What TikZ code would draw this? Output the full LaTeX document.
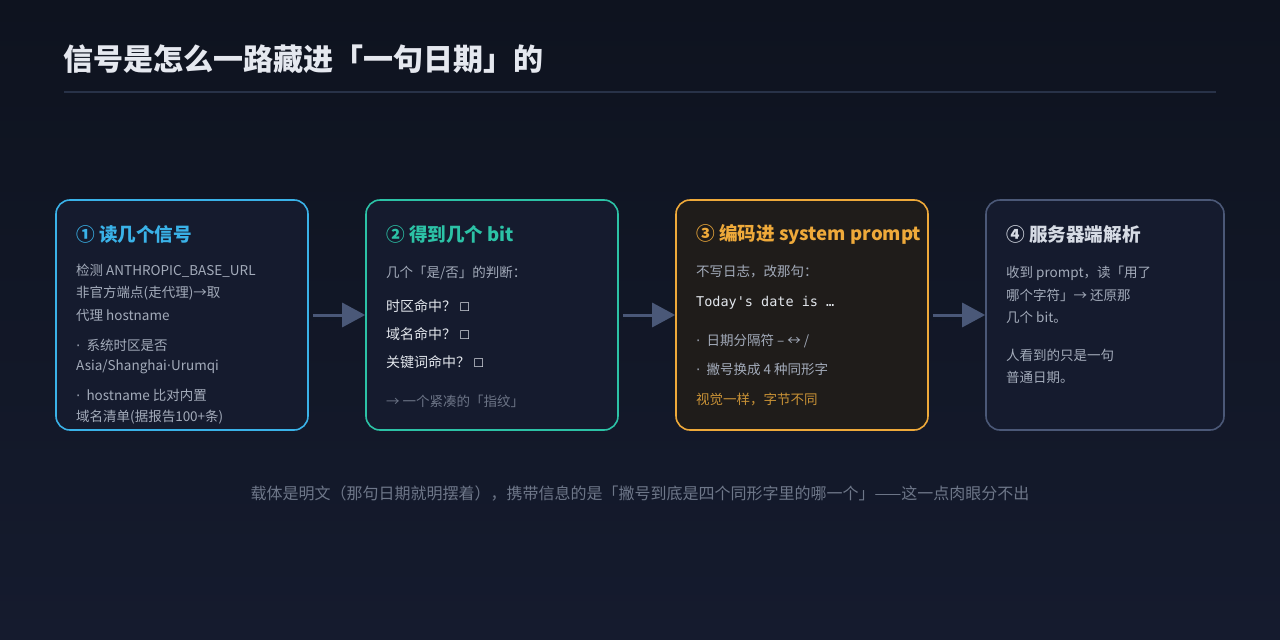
\documentclass[tikz,border=0pt]{standalone}
\usepackage{fontspec}
\setmainfont{Noto Sans CJK SC}
\newfontfamily\monof{DejaVu Sans Mono}
\newfontfamily\dvs{DejaVu Sans}
\usetikzlibrary{arrows.meta}
\definecolor{bgtop}{HTML}{0E131F}
\definecolor{bgbot}{HTML}{151B2E}
\definecolor{titlec}{HTML}{E5E8EF}
\definecolor{rulec}{HTML}{283248}
\definecolor{cblue}{HTML}{3AB2E8}
\definecolor{cteal}{HTML}{2CC2A6}
\definecolor{corange}{HTML}{EEA93A}
\definecolor{cgray}{HTML}{4B5877}
\definecolor{boxfill}{HTML}{151B2E}
\definecolor{ofill}{HTML}{1F1C1A}
\definecolor{hgray}{HTML}{D6DBE4}
\definecolor{bodyc}{HTML}{A3ABBA}
\definecolor{brightc}{HTML}{E2E6EC}
\definecolor{dimc}{HTML}{6C7486}
\definecolor{omuted}{HTML}{C99236}
\definecolor{arrowc}{HTML}{4A5878}
\definecolor{footc}{HTML}{6E7789}
\newcommand{\dotsep}{{\dvs ·}}
\tikzset{
  card/.style={draw, line width=1.6pt, rounded corners=14pt, minimum width=252pt, minimum height=230pt, inner sep=0pt},
  hdr/.style={anchor=west, inner sep=0pt, font=\fontsize{18.6}{23}\selectfont\bfseries},
  txt/.style={anchor=west, inner sep=0pt, text=bodyc, font=\fontsize{13.5}{16}\selectfont},
  btxt/.style={anchor=west, inner sep=0pt, text=brightc, font=\fontsize{14}{17}\selectfont},
  flow/.style={draw=arrowc, line width=3pt, shorten <=4pt, -{Triangle[length=23pt,width=24pt]}}
}
\begin{document}
\begin{tikzpicture}[x=1pt,y=-1pt]
\shade[top color=bgtop, bottom color=bgbot] (0,0) rectangle (1280,640);
\useasboundingbox (0,0) rectangle (1280,640);
% title
\node[anchor=west, inner sep=0pt, text=titlec, font=\fontsize{30}{34}\selectfont\bfseries] (title) at (63,59) {信号是怎么一路藏进「一句日期」的};
\draw[rulec, line width=1.2pt] (64,92) -- (1216,92);
% cards
\node[card, draw=cblue, fill=boxfill] (b1) at (182,315) {};
\node[card, draw=cteal, fill=boxfill] (b2) at (492,315) {};
\node[card, draw=corange, fill=ofill] (b3) at (802,315) {};
\node[card, draw=cgray, fill=boxfill, minimum width=238pt] (b4) at (1105,315) {};
% arrows
\draw[flow] (b1) -- (b2);
\draw[flow] (b2) -- (b3);
\draw[flow] (b3) -- (b4);
% card 1
\node[hdr, text=cblue] (h1) at (76,234) {① 读几个信号};
\node[txt] (t11) at (76,271) {检测 ANTHROPIC\_BASE\_URL};
\node[txt] (t12) at (76,293) {非官方端点(走代理)→取};
\node[txt] (t13) at (76,315) {代理 hostname};
\node[txt] (t14) at (76,345) {\dotsep\ \ 系统时区是否};
\node[txt] (t15) at (76,367) {Asia/Shanghai\dotsep Urumqi};
\node[txt] (t16) at (76,395) {\dotsep\ \ hostname 比对内置};
\node[txt] (t17) at (76,417) {域名清单(据报告100+条)};
% card 2
\node[hdr, text=cteal] (h2) at (386,234) {② 得到几个 bit};
\node[txt] (t21) at (386,273) {几个「是/否」的判断：};
\node[btxt] (t22) at (386,306) {时区命中？ {\dvs\fontsize{12}{14}\selectfont ☐}};
\node[btxt] (t23) at (386,334) {域名命中？ {\dvs\fontsize{12}{14}\selectfont ☐}};
\node[btxt] (t24) at (386,362) {关键词命中？ {\dvs\fontsize{12}{14}\selectfont ☐}};
\node[txt, text=dimc] (t25) at (386,401) {→ 一个紧凑的「指纹」};
% card 3
\node[hdr, text=corange] (h3) at (696,234) {③ 编码进 system prompt};
\node[txt] (t31) at (696,272) {不写日志，改那句：};
\node[anchor=west, inner sep=0pt, text=brightc, font=\monof\fontsize{13.5}{16}\selectfont] (t32) at (696,303) {Today's date is …};
\node[txt] (t33) at (696,341) {\dotsep\ \ 日期分隔符 – ↔ /};
\node[txt] (t34) at (696,369) {\dotsep\ \ 撇号换成 4 种同形字};
\node[txt, text=omuted] (t35) at (696,399) {视觉一样，字节不同};
% card 4
\node[hdr, text=hgray] (h4) at (1006,234) {④ 服务器端解析};
\node[txt] (t41) at (1006,273) {收到 prompt，读「用了};
\node[txt] (t42) at (1006,295) {哪个字符」→ 还原那};
\node[txt] (t43) at (1006,317) {几个 bit。};
\node[txt] (t44) at (1006,355) {人看到的只是一句};
\node[txt] (t45) at (1006,377) {普通日期。};
% footer
\node[inner sep=0pt, text=footc, font=\fontsize{16}{19}\selectfont] (foot) at (640,494) {载体是明文（那句日期就明摆着），携带信息的是「撇号到底是四个同形字里的哪一个」——这一点肉眼分不出};
\end{tikzpicture}
\end{document}
